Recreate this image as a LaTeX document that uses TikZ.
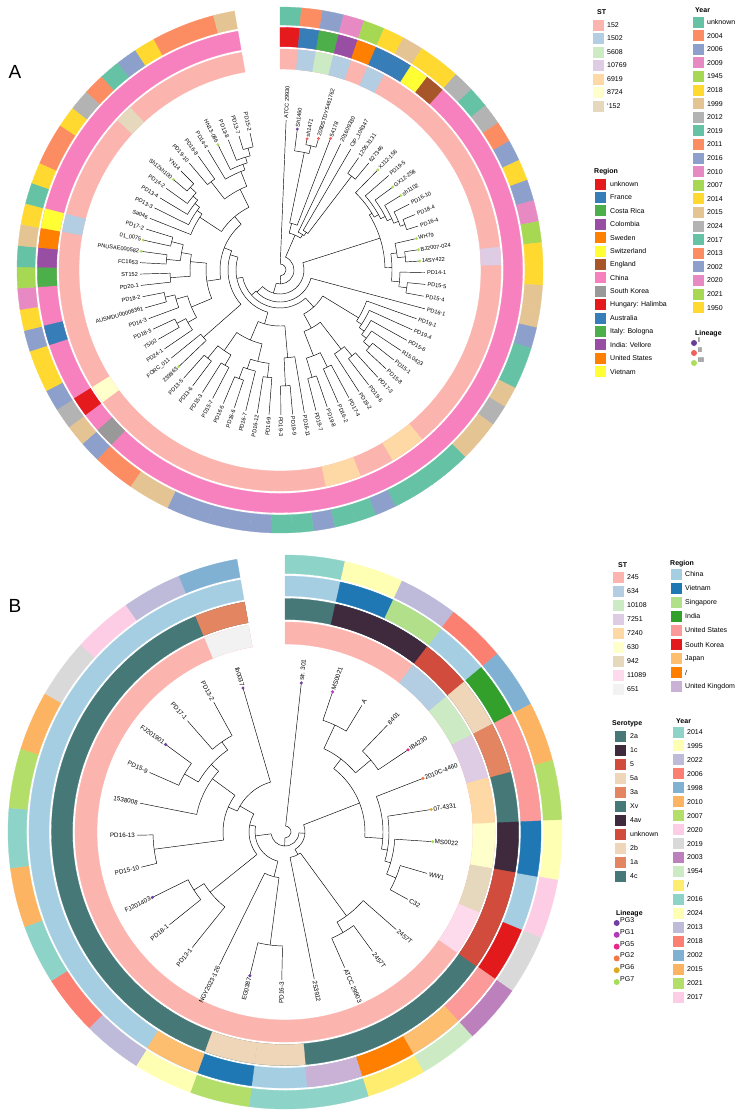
\documentclass[tikz,border=0pt]{standalone}
\usepackage{fontspec}
\setmainfont{Liberation Sans}
\usepackage{tikz}
\usetikzlibrary{calc}
\usepackage{xcolor}
\definecolor{stpink}{RGB}{251,180,174}
\definecolor{stblue}{RGB}{179,205,227}
\definecolor{stgreen}{RGB}{204,235,197}
\definecolor{stlilac}{RGB}{222,203,228}
\definecolor{stpeach}{RGB}{254,217,166}
\definecolor{stcream}{RGB}{255,255,204}
\definecolor{sttan}{RGB}{229,216,189}
\definecolor{strose}{RGB}{253,218,236}
\definecolor{stgrey}{RGB}{242,242,242}
\definecolor{rgred}{RGB}{228,26,28}
\definecolor{rgblue}{RGB}{55,126,184}
\definecolor{rggreen}{RGB}{77,175,74}
\definecolor{rgpurple}{RGB}{152,78,163}
\definecolor{rgorange}{RGB}{255,127,0}
\definecolor{rgyellow}{RGB}{255,255,51}
\definecolor{rgbrown}{RGB}{166,86,40}
\definecolor{rgpink}{RGB}{247,129,191}
\definecolor{rggrey}{RGB}{153,153,153}
\definecolor{yrteal}{RGB}{102,194,165}
\definecolor{yrsalmon}{RGB}{252,141,98}
\definecolor{yrblue}{RGB}{141,160,203}
\definecolor{yrpink}{RGB}{231,138,195}
\definecolor{yrlime}{RGB}{166,216,84}
\definecolor{yryellow}{RGB}{255,217,47}
\definecolor{yrtan}{RGB}{229,196,148}
\definecolor{yrgrey}{RGB}{179,179,179}
\definecolor{serteal}{RGB}{71,120,120}
\definecolor{serplum}{RGB}{62,41,61}
\definecolor{serred}{RGB}{210,76,62}
\definecolor{sersand}{RGB}{239,214,185}
\definecolor{sercoral}{RGB}{226,133,96}
\definecolor{bgsky}{RGB}{166,206,227}
\definecolor{bgnavy}{RGB}{31,120,180}
\definecolor{bglime}{RGB}{178,223,138}
\definecolor{bggreen}{RGB}{51,160,44}
\definecolor{bgrose}{RGB}{251,154,153}
\definecolor{bgred}{RGB}{227,26,28}
\definecolor{bgapricot}{RGB}{253,191,111}
\definecolor{bgorange}{RGB}{255,127,0}
\definecolor{bglilac}{RGB}{202,178,214}
\definecolor{byaqua}{RGB}{141,211,199}
\definecolor{bycream}{RGB}{255,255,179}
\definecolor{bylav}{RGB}{190,186,218}
\definecolor{bysalmon}{RGB}{251,128,114}
\definecolor{bysteel}{RGB}{128,177,211}
\definecolor{byorange}{RGB}{253,180,98}
\definecolor{bylime}{RGB}{179,222,105}
\definecolor{bypink}{RGB}{252,205,229}
\definecolor{bygrey}{RGB}{217,217,217}
\definecolor{byorchid}{RGB}{188,128,189}
\definecolor{bymint}{RGB}{204,235,197}
\definecolor{bygold}{RGB}{255,237,111}
\definecolor{lnone}{RGB}{106,61,154}
\definecolor{lntwo}{RGB}{240,96,93}
\definecolor{lnthree}{RGB}{172,222,90}
\definecolor{pgthree}{RGB}{112,64,160}
\definecolor{pgone}{RGB}{176,58,186}
\definecolor{pgfive}{RGB}{231,41,138}
\definecolor{pgtwo}{RGB}{240,120,70}
\definecolor{pgsix}{RGB}{220,170,34}
\definecolor{pgseven}{RGB}{166,222,90}

\newcommand{\ringseg}[5]{\fill[#1, draw=#1, line width=0.3pt] (#2:#4) arc[start angle=#2, end angle=#3, radius=#4] -- (#3:#5) arc[start angle=#3, end angle=#2, radius=#5] -- cycle;}

\tikzset{
  branch/.style={line width=0.45pt, black},
  tiplab/.style={inner sep=0pt},
  legbox/.style={minimum size=11pt, inner sep=0pt},
  legtext/.style={font=\fontsize{7}{8}\selectfont, anchor=west, inner sep=0pt},
  legtitle/.style={font=\bfseries\fontsize{7}{8}\selectfont, anchor=west, inner sep=0pt},
  panlab/.style={font=\fontsize{19}{22}\selectfont, inner sep=0pt}
}

\begin{document}
\begin{tikzpicture}[x=1pt, y=1pt]
  \useasboundingbox (0,0) rectangle (745,-1114);
  \node[panlab] (panA) at (15,-72) {A};
  \node[panlab] (panB) at (15,-606) {B};

  \begin{scope}[shift={(280,-270)}]
    \def\stp{4.6667}
    \ringseg{stpink}{90}{-260}{201}{221}
    \foreach \k/\c in {1/stblue,2/stgreen,3/stblue,5/stblue,18/stlilac,30/stpeach,31/stpeach,34/stpeach,35/stpeach,50/stcream,60/stblue,67/sttan}{
      \pgfmathsetmacro\sa{90-\k*\stp}
      \pgfmathsetmacro\ea{90-(\k+1)*\stp}
      \ringseg{\c}{\sa}{\ea}{201}{221}
    }
    \ringseg{rgpink}{90}{-260}{223.5}{242.5}
    \foreach \k/\c in {0/rgred,1/rgblue,2/rggreen,3/rgpurple,4/rgorange,5/rgblue,6/rgblue,7/rgyellow,8/rgbrown,48/rggrey,50/rgred,54/rgblue,57/rggreen,58/rgpurple,59/rgorange,60/rgyellow}{
      \pgfmathsetmacro\sa{90-\k*\stp}
      \pgfmathsetmacro\ea{90-(\k+1)*\stp}
      \ringseg{\c}{\sa}{\ea}{223.5}{242.5}
    }
    \foreach \c [count=\k from 0] in {yrteal,yrsalmon,yrblue,yrpink,yrlime,yryellow,yrtan,yryellow,yryellow,yrgrey,
      yrteal,yrgrey,yrsalmon,yrblue,yryellow,yrblue,yrpink,yrlime,yryellow,yryellow,
      yrtan,yrtan,yrblue,yrteal,yrteal,yrtan,yrgrey,yrtan,yrtan,yrteal,
      yrteal,yrteal,yrteal,yrblue,yrteal,yrteal,yrblue,yrteal,yrteal,yrblue,
      yrblue,yrblue,yrblue,yrblue,yrtan,yrtan,yrsalmon,yrsalmon,yrblue,yrtan,
      yrgrey,yrblue,yryellow,yryellow,yrblue,yryellow,yrpink,yrlime,yrteal,yrtan,
      yryellow,yrteal,yryellow,yrsalmon,yrsalmon,yryellow,yrgrey,yrsalmon,yrteal,yrblue,
      yryellow,yrsalmon,yrsalmon,yrsalmon,yrtan}{
      \pgfmathsetmacro\sa{90-\k*\stp}
      \pgfmathsetmacro\ea{90-(\k+1)*\stp}
      \ringseg{\c}{\sa}{\ea}{245}{263}
    }
    \foreach \a/\k/\b/\r/\p in {0/0/74/6/6, 1/8/74/14/6, 1/4/8/38/14, 1/3/4/48/38, 1/1/3/120/48, 2/2/3/128/120,
      5/5/8/42/38, 6/6/8/46/42, 7/7/8/118/46, 9/21/74/24/14, 9/15/21/105/24, 9/9/15/108/105,
      10/10/15/113/108, 11/11/15/118/113, 12/12/15/123/118, 13/13/15/128/123, 14/14/15/133/128,
      16/18/21/112/105, 16/16/18/118/112, 17/17/18/126/118, 19/19/21/120/112, 20/20/21/128/120,
      22/22/74/32/24, 23/35/74/38/32, 23/28/35/50/38, 23/23/28/92/50, 24/24/28/98/92,
      25/25/28/104/98, 26/26/28/110/104, 27/27/28/118/110, 29/31/35/66/50, 29/30/31/100/66,
      29/29/30/112/100, 32/33/35/92/66, 32/32/33/108/92, 34/34/35/112/92, 36/47/74/44/38,
      36/38/47/56/44, 36/36/38/88/56, 37/37/38/116/88, 39/43/47/76/56, 39/40/43/94/76,
      39/39/40/108/94, 41/41/43/104/94, 42/42/43/116/104, 44/45/47/98/76, 44/44/45/110/98,
      46/46/47/114/98, 48/49/74/52/44, 48/48/49/102/52, 50/61/74/60/52, 50/55/61/74/60,
      50/52/55/96/74, 50/50/52/106/96, 51/51/52/116/106, 53/53/55/108/96, 54/54/55/118/108,
      56/57/61/90/74, 56/56/57/110/90, 58/59/61/100/90, 58/58/59/114/100, 60/60/61/112/100,
      62/67/74/70/60, 62/62/67/96/70, 63/63/67/102/96, 64/64/67/108/102, 65/65/67/114/108,
      66/66/67/122/114, 68/69/74/90/70, 68/68/69/112/90, 70/70/74/106/90, 71/71/74/112/106,
      72/72/74/118/112, 73/73/74/126/118}{
      \pgfmathsetmacro\ta{90-((\a+\k)/2+0.5)*\stp}
      \pgfmathsetmacro\tb{90-((\k+1+\b)/2+0.5)*\stp}
      \pgfmathsetmacro\tm{90-((\a+\b)/2+0.5)*\stp}
      \draw[branch] (\ta:\r) arc[start angle=\ta, end angle=\tb, radius=\r];
      \draw[branch] (\tm:\p) -- (\tm:\r);
    }
    \foreach \i/\rt/\p/\lab in {0/150/6/ATCC 29930, 1/142/120/Sh1460, 2/134/128/sh1471, 3/137/128/2090STDY5461762,
      4/141/48/54178, 5/140/42/201609330, 6/140/46/CIP\_106347, 7/137/118/1205.3131, 8/139/118/627346,
      9/140/108/XJ12-156, 10/144/113/PD19-5, 11/140/118/GX12-258, 12/142/123/sh1102, 13/145/128/PD16-10,
      14/146/133/PD18-4, 15/145/133/PD16-4, 16/140/118/WH79, 17/140/126/BJ2007-024, 18/140/126/14SY422,
      19/145/120/PD14-1, 20/146/128/PD15-5, 21/146/128/PD15-4, 22/150/32/PD16-1, 23/145/92/PD19-1,
      24/145/98/PD19-4, 25/145/104/PD15-6, 26/145/110/R15.0423, 27/145/118/PD15-1, 28/145/118/PD15-8,
      29/145/112/PD17-3, 30/145/112/PD19-6, 31/145/100/PD19-2, 32/145/108/PD17-4, 33/145/108/PD16-2,
      34/145/112/PD19-8, 35/145/112/PD19-7, 36/145/88/PD16-11, 37/145/116/PD19-9, 38/145/116/PD19-3,
      39/145/108/PD16-9, 40/145/108/PD16-12, 41/145/104/PD16-7, 42/145/116/PD16-6, 43/145/116/PD16-5,
      44/145/110/PD15-7, 45/145/110/PD15-3, 46/145/114/PD13-6, 47/145/114/PD13-5, 48/140/102/239863,
      49/140/102/FORC\_011, 50/140/106/PD24-1, 51/140/116/{75/02}, 52/140/116/PD18-3, 53/140/108/PD14-3,
      54/140/118/AUSMDU00008361, 55/140/118/PD18-2, 56/140/110/PD20-1, 57/140/110/ST152, 58/140/114/FC1653,
      59/140/114/PNUSAE000582, 60/140/112/01\_0075, 61/140/112/PD17-2, 62/140/96/Sa046, 63/140/102/PD13-3,
      64/140/108/PD13-4, 65/140/114/PD14-2, 66/140/122/Sh12sh100, 67/140/122/YN14, 68/140/112/PD19-10,
      69/140/112/PD16-8, 70/140/106/PD14-4, 71/140/112/HN13-086, 72/140/118/PD13-8, 73/140/126/PD13-7,
      74/140/126/PD15-2}{
      \pgfmathsetmacro\ang{90-(\i+0.5)*\stp}
      \pgfmathsetmacro\rl{\rt+2}
      \draw[branch] (\ang:\p) -- (\ang:\rt);
      \ifdim \ang pt<-90pt
        \node[tiplab, font=\fontsize{5.6}{6}\selectfont, anchor=east, rotate=\ang+180] (tA\i) at (\ang:\rl) {\lab};
      \else
        \node[tiplab, font=\fontsize{5.6}{6}\selectfont, anchor=west, rotate=\ang] (tA\i) at (\ang:\rl) {\lab};
      \fi
    }
    \foreach \i/\rt/\c in {1/142/lnone, 2/134/lntwo, 3/137/lntwo, 4/141/lntwo, 9/140/lnthree, 11/140/lnthree,
      12/142/lnthree, 16/140/lnthree, 17/140/lnthree, 18/140/lnthree, 48/140/lnthree, 59/140/lnthree,
      60/140/lnthree, 66/140/lnthree, 71/140/lnthree}{
      \pgfmathsetmacro\ang{90-(\i+0.5)*\stp}
      \fill[\c] (\ang:\rt) circle (1.6);
    }
  \end{scope}

  \begin{scope}[shift={(285,-832)}]
    \def\stp{12.5}
    \ringseg{stpink}{90}{-260}{188}{210}
    \foreach \k/\c in {3/stblue,4/stgreen,5/stlilac,6/stpeach,7/stcream,8/sttan,9/strose,27/stgrey}{
      \pgfmathsetmacro\sa{90-\k*\stp}
      \pgfmathsetmacro\ea{90-(\k+1)*\stp}
      \ringseg{\c}{\sa}{\ea}{188}{210}
    }
    \ringseg{serteal}{90}{-260}{212.5}{233.5}
    \foreach \k/\c in {1/serplum,2/serplum,3/serred,4/sersand,5/sercoral,7/serplum,8/serred,9/serred,14/sersand,15/sersand,27/sercoral}{
      \pgfmathsetmacro\sa{90-\k*\stp}
      \pgfmathsetmacro\ea{90-(\k+1)*\stp}
      \ringseg{\c}{\sa}{\ea}{212.5}{233.5}
    }
    \ringseg{bgsky}{90}{-260}{236}{256}
    \foreach \k/\c in {1/bgnavy,2/bglime,4/bggreen,5/bgrose,6/bgrose,7/bgnavy,9/bgred,10/bgrose,11/bgapricot,12/bgorange,13/bglilac,15/bgnavy,16/bgapricot}{
      \pgfmathsetmacro\sa{90-\k*\stp}
      \pgfmathsetmacro\ea{90-(\k+1)*\stp}
      \ringseg{\c}{\sa}{\ea}{236}{256}
    }
    \foreach \c [count=\k from 0] in {byaqua,bycream,bylav,bysalmon,bysteel,byorange,bylime,bycream,bypink,bygrey,
      byorchid,bymint,bygold,byaqua,byaqua,bylime,bycream,bylav,bysalmon,byaqua,
      byorange,byaqua,bylime,byorange,bygrey,bypink,bylav,bysteel}{
      \pgfmathsetmacro\sa{90-\k*\stp}
      \pgfmathsetmacro\ea{90-(\k+1)*\stp}
      \ringseg{\c}{\sa}{\ea}{258.5}{277}
    }
    \foreach \a/\k/\b/\r/\p in {0/0/27/6/6, 1/13/27/14/6, 1/9/13/20/14, 1/4/9/80/20, 1/2/4/92/80, 1/1/2/118/92,
      3/3/4/112/92, 5/5/9/98/80, 6/6/9/104/98, 7/7/9/110/104, 8/8/9/120/110, 10/12/13/26/20,
      10/10/12/104/26, 11/11/12/116/104, 14/16/27/30/14, 14/15/16/46/30, 14/14/15/114/46,
      17/19/27/36/30, 17/17/19/96/36, 18/18/19/108/96, 20/26/27/52/36, 20/21/26/62/52,
      20/20/21/132/62, 22/22/26/90/62, 23/24/26/100/90, 23/23/24/116/100, 25/25/26/110/100}{
      \pgfmathsetmacro\ta{90-((\a+\k)/2+0.5)*\stp}
      \pgfmathsetmacro\tb{90-((\k+1+\b)/2+0.5)*\stp}
      \pgfmathsetmacro\tm{90-((\a+\b)/2+0.5)*\stp}
      \draw[branch] (\ta:\r) arc[start angle=\ta, end angle=\tb, radius=\r];
      \draw[branch] (\tm:\p) -- (\tm:\r);
    }
    \foreach \i/\rt/\p/\lab in {0/150/6/str. 301, 1/148/118/MS0021, 2/148/118/A, 3/148/112/8401, 4/148/112/IB4230,
      5/148/98/2010C-4460, 6/148/104/07-4331, 7/148/110/MS0022, 8/148/120/WW1, 9/140/120/C32,
      10/148/104/2457T, 11/148/116/2457T, 12/148/116/ATCC 29903, 13/150/26/253912, 14/148/114/PD16-3,
      15/148/114/EG0387, 16/148/46/NGY2023-126, 17/148/96/PD13-1, 18/148/108/PD18-1, 19/148/108/FJ201403,
      20/148/132/PD15-10, 21/148/132/PD16-13, 22/148/90/1538008, 23/148/116/PD15-9, 24/148/116/FJ201901,
      25/148/110/PD17-1, 26/148/110/PD13-2, 27/150/52/Ib0037}{
      \pgfmathsetmacro\ang{90-(\i+0.5)*\stp}
      \pgfmathsetmacro\rl{\rt+2}
      \draw[branch] (\ang:\p) -- (\ang:\rt);
      \ifdim \ang pt<-90pt
        \node[tiplab, font=\fontsize{6.3}{7}\selectfont, anchor=east, rotate=\ang+180] (tB\i) at (\ang:\rl) {\lab};
      \else
        \node[tiplab, font=\fontsize{6.3}{7}\selectfont, anchor=west, rotate=\ang] (tB\i) at (\ang:\rl) {\lab};
      \fi
    }
    \foreach \i/\rt/\c in {0/150/pgthree, 1/148/pgone, 4/148/pgfive, 5/148/pgtwo, 6/148/pgsix, 7/148/pgseven,
      15/148/pgthree, 19/148/pgthree, 24/148/pgthree, 27/150/pgthree}{
      \pgfmathsetmacro\ang{90-(\i+0.5)*\stp}
      \fill[\c] (\ang:\rt) circle (1.7);
    }
  \end{scope}

  \node[legtitle] (ttlStA) at (597,-12) {ST};
  \foreach \lab/\c [count=\k from 0] in {152/stpink,1502/stblue,5608/stgreen,10769/stlilac,6919/stpeach,8724/stcream,`152/sttan}{
    \node[legbox, fill=\c] (keyStA\k) at (598,{-25-13.5*\k}) {};
    \node[legtext] (labStA\k) at (607,{-25-13.5*\k}) {\lab};
  }
  \node[legtitle] (ttlYrA) at (695,-10) {Year};
  \foreach \lab/\c [count=\k from 0] in {unknown/yrteal,2004/yrsalmon,2006/yrblue,2009/yrpink,1945/yrlime,2018/yryellow,
    1999/yrtan,2012/yrgrey,2019/yrteal,2011/yrsalmon,2016/yrblue,2010/yrpink,2007/yrlime,2014/yryellow,2015/yrtan,
    2024/yrgrey,2017/yrteal,2013/yrsalmon,2002/yrblue,2020/yrpink,2021/yrlime,1950/yryellow}{
    \node[legbox, fill=\c] (keyYrA\k) at (698.5,{-22-13.6*\k}) {};
    \node[legtext] (labYrA\k) at (707,{-22-13.6*\k}) {\lab};
  }
  \node[legtitle] (ttlRgA) at (594,-172) {Region};
  \foreach \lab/\c [count=\k from 0] in {unknown/rgred,France/rgblue,Costa Rica/rggreen,Colombia/rgpurple,Sweden/rgorange,
    Switzerland/rgyellow,England/rgbrown,China/rgpink,South Korea/rggrey,Hungary: Halimba/rgred,Australia/rgblue,
    Italy: Bologna/rggreen,India: Vellore/rgpurple,United States/rgorange,Vietnam/rgyellow}{
    \node[legbox, fill=\c] (keyRgA\k) at (600.3,{-184-13.4*\k}) {};
    \node[legtext] (labRgA\k) at (610,{-184-13.4*\k}) {\lab};
  }
  \node[legtitle] (ttlLnA) at (695,-334) {Lineage};
  \foreach \lab/\c [count=\k from 0] in {I/lnone,II/lntwo,III/lnthree}{
    \fill[\c] (694,{-343-10*\k}) circle (3);
    \node[legtext] (labLnA\k) at (698,{-340-10*\k}) {\lab};
  }

  \node[legtitle] (ttlStB) at (618,-565) {ST};
  \foreach \lab/\c [count=\k from 0] in {245/stpink,634/stblue,10108/stgreen,7251/stlilac,7240/stpeach,630/stcream,942/sttan,11089/strose,651/stgrey}{
    \node[legbox, fill=\c] (keyStB\k) at (618.2,{-577-14*\k}) {};
    \node[legtext] (labStB\k) at (627,{-577-14*\k}) {\lab};
  }
  \node[legtitle] (ttlRgB) at (670,-564) {Region};
  \foreach \lab/\c [count=\k from 0] in {China/bgsky,Vietnam/bgnavy,Singapore/bglime,India/bggreen,United States/bgrose,
    South Korea/bgred,Japan/bgapricot,{/}/bgorange,United Kingdom/bglilac}{
    \node[legbox, fill=\c] (keyRgB\k) at (676.5,{-574-14.1*\k}) {};
    \node[legtext] (labRgB\k) at (685,{-574-14.1*\k}) {\lab};
  }
  \node[legtitle] (ttlSeB) at (612,-724) {Serotype};
  \foreach \lab/\c [count=\k from 0] in {2a/serteal,1c/serplum,5/serred,5a/sersand,3a/sercoral,Xv/serteal,4av/serplum,
    unknown/serred,2b/sersand,1a/sercoral,4c/serteal}{
    \node[legbox, fill=\c] (keySeB\k) at (620.8,{-736-14*\k}) {};
    \node[legtext] (labSeB\k) at (630,{-736-14*\k}) {\lab};
  }
  \node[legtitle] (ttlYrB) at (676,-721) {Year};
  \foreach \lab/\c [count=\k from 0] in {2014/byaqua,1995/bycream,2022/bylav,2006/bysalmon,1998/bysteel,2010/byorange,
    2007/bylime,2020/bypink,2019/bygrey,2003/byorchid,1954/bymint,{/}/bygold,2016/byaqua,2024/bycream,2013/bylav,
    2018/bysalmon,2002/bysteel,2015/byorange,2021/bylime,2017/bypink}{
    \node[legbox, fill=\c] (keyYrB\k) at (678.5,{-732-13.95*\k}) {};
    \node[legtext] (labYrB\k) at (687,{-732-13.95*\k}) {\lab};
  }
  \node[legtitle] (ttlLnB) at (616,-914) {Lineage};
  \foreach \lab/\c [count=\k from 0] in {PG3/pgthree,PG1/pgone,PG5/pgfive,PG2/pgtwo,PG6/pgsix,PG7/pgseven}{
    \fill[\c] (616.7,{-923-11.8*\k}) circle (3);
    \node[legtext] (labLnB\k) at (620,{-920-11.8*\k}) {\lab};
  }
\end{tikzpicture}
\end{document}
